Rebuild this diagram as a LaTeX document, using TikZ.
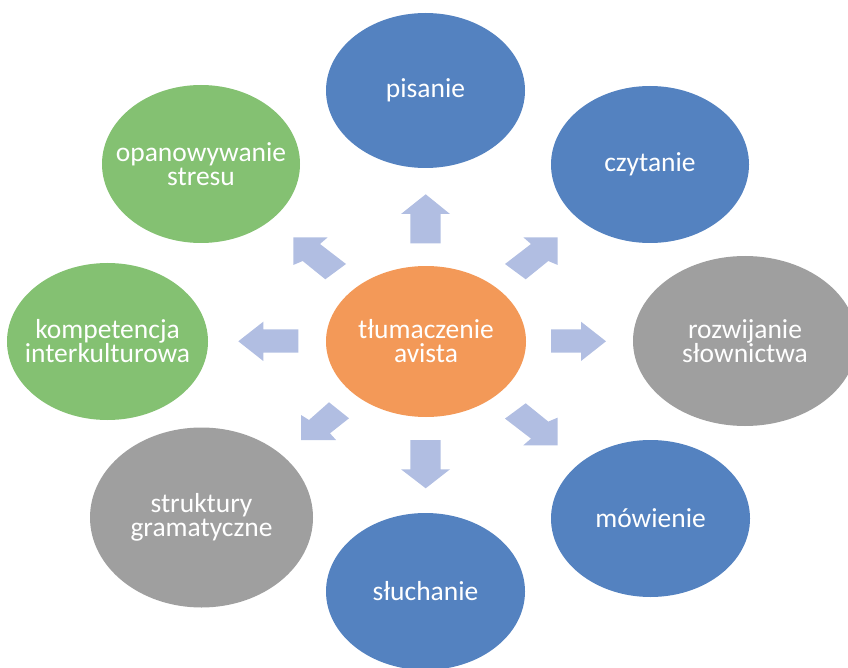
\documentclass[tikz,border=0pt]{standalone}
\usepackage{fontspec}
\setmainfont{Carlito}
\usetikzlibrary{shapes.geometric}
\definecolor{cblue}{RGB}{84,130,192}
\definecolor{cgreen}{RGB}{132,193,114}
\definecolor{cgray}{RGB}{159,159,159}
\definecolor{corange}{RGB}{243,153,88}
\definecolor{carrow}{RGB}{177,190,226}
\begin{document}
\begin{tikzpicture}[x=1pt,y=-1pt,
  bubble/.style={ellipse, draw=none, inner sep=0pt},
  lbl/.style={text=white, align=center, inner sep=0pt,
    font=\fontsize{27.5}{24}\selectfont},
  blockarrow/.style={fill=carrow, draw=none}]
\useasboundingbox (0,0) rectangle (848,668);
\clip (0,0) rectangle (848,668);

% bubbles
\node[bubble, fill=corange, minimum width=200pt, minimum height=151pt] (ctr) at (426,341.5) {};
\node[bubble, fill=cblue,   minimum width=199pt, minimum height=155pt] (pis) at (425.5,90.5) {};
\node[bubble, fill=cblue,   minimum width=198pt, minimum height=157pt] (czy) at (650,164.5) {};
\node[bubble, fill=cgray,   minimum width=224pt, minimum height=170pt] (roz) at (745,341) {};
\node[bubble, fill=cblue,   minimum width=199pt, minimum height=157pt] (mow) at (650.5,518.5) {};
\node[bubble, fill=cblue,   minimum width=199pt, minimum height=157pt] (slu) at (425.5,591.5) {};
\node[bubble, fill=cgray,   minimum width=223pt, minimum height=180pt] (str) at (201.5,517.5) {};
\node[bubble, fill=cgreen,  minimum width=201pt, minimum height=157pt] (kom) at (107.5,341.5) {};
\node[bubble, fill=cgreen,  minimum width=198pt, minimum height=158pt] (opa) at (201,164) {};

% labels
\node[lbl] (ctr-t) at (ctr.center) {tłumaczenie\\avista};
\node[lbl] (pis-t) at (pis.center) {pisanie};
\node[lbl] (czy-t) at (czy.center) {czytanie};
\node[lbl] (roz-t) at (roz.center) {rozwijanie\\słownictwa};
\node[lbl] (mow-t) at (mow.center) {mówienie};
\node[lbl] (slu-t) at (slu.center) {słuchanie};
\node[lbl] (str-t) at (str.center) {struktury\\gramatyczne};
\node[lbl] (kom-t) at (kom.center) {kompetencja\\interkulturowa};
\node[lbl] (opa-t) at (opa.center) {opanowywanie\\stresu};

% block arrows
% up
\fill[blockarrow] (425.7,194.3) -- (450,214) -- (440.7,214) -- (440.7,243.3)
  -- (410.3,243.3) -- (410.3,214) -- (401,214) -- cycle;
% down
\fill[blockarrow] (425.7,488.3) -- (450,469.3) -- (440.7,469.3) -- (440.7,440)
  -- (410.3,440) -- (410.3,469.3) -- (401,469.3) -- cycle;
% right
\fill[blockarrow] (606,341.3) -- (581,321.7) -- (581,329.3) -- (551,329.3)
  -- (551,352.7) -- (581,352.7) -- (581,361) -- cycle;
% left
\fill[blockarrow] (238.3,341.3) -- (263.3,321.7) -- (263.3,329.3) -- (298.3,329.3)
  -- (298.3,352.7) -- (263.3,352.7) -- (263.3,361) -- cycle;
% north-east
\fill[blockarrow] (557.7,237.3) -- (523.3,237.3) -- (531,244) -- (505,264)
  -- (525.7,279.3) -- (548.3,261) -- (557.7,265) -- cycle;
% north-west
\fill[blockarrow] (293.3,237.3) -- (327.7,237.3) -- (320,244) -- (346,264)
  -- (325.3,279.3) -- (302.7,261) -- (293.3,265) -- cycle;
% south-east
\fill[blockarrow] (557.7,445.3) -- (523.3,445.3) -- (531,438.6) -- (505,418.6)
  -- (525.7,403.3) -- (548.3,421.6) -- (557.7,417.6) -- cycle;
% south-west
\fill[blockarrow] (301,440) -- (336,440) -- (330,433.3) -- (349,418.3)
  -- (329,402.3) -- (309,420) -- (301,415) -- cycle;
\end{tikzpicture}
\end{document}
